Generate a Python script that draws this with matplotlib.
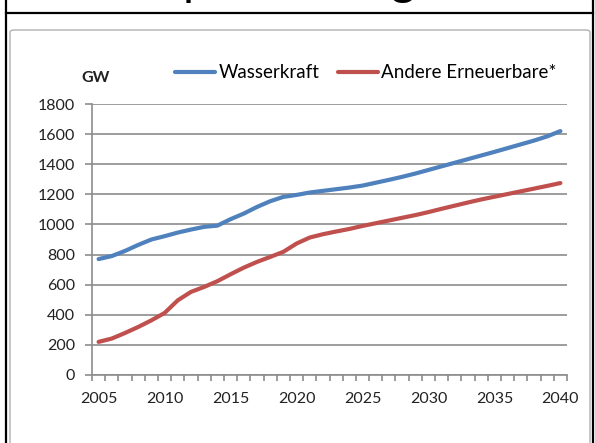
### Wasserkraft vs. andere Erneuerbare, Kapazitaet in GW

import matplotlib
matplotlib.use("Agg")
import matplotlib.pyplot as plt
from matplotlib.lines import Line2D
from matplotlib.patches import FancyBboxPatch

years = list(range(2005, 2041))
wasserkraft = [770, 790, 824, 864, 900, 922, 946, 966, 984, 992,
               1035, 1072, 1116, 1154, 1183, 1196, 1212, 1223, 1234, 1245,
               1258, 1277, 1296, 1316, 1338, 1362, 1386, 1410, 1434, 1458,
               1482, 1507, 1532, 1557, 1585, 1620]
andere = [220, 242, 279, 319, 363, 412, 496, 552, 585, 623,
          669, 713, 751, 784, 818, 873, 913, 935, 953, 970,
          990, 1008, 1026, 1044, 1062, 1082, 1104, 1125, 1146, 1166,
          1184, 1202, 1220, 1238, 1256, 1275]
labels = ["Wasserkraft", "Andere Erneuerbare*"]
y_ticks = [0, 200, 400, 600, 800, 1000, 1200, 1400, 1600, 1800]

W, H = 595, 443
BLUE = "#4F81BD"
RED = "#C0504D"
GRID = "#8C8C8C"

plt.rcParams['font.family'] = ['Lato', 'DejaVu Sans']


def px(x, y):
    # pixel coords (top-left origin) -> figure fraction
    return x / W, 1 - y / H


def main():
    fig = plt.figure(figsize=(W / 100, H / 100), dpi=100)
    ax = fig.add_axes([92 / W, 1 - 375 / H, (567 - 92) / W, (375 - 104) / H])

    xs = list(range(len(years)))
    ax.plot(xs, wasserkraft, color=BLUE, linewidth=3, solid_capstyle='round', label=labels[0])
    ax.plot(xs, andere, color=RED, linewidth=3, solid_capstyle='round', label=labels[1])

    ax.set_xlim(-0.5, len(years) - 0.5)
    ax.set_ylim(0, 1800)
    ax.set_yticks(y_ticks)
    ax.set_yticklabels([str(v) for v in y_ticks])
    major = [i for i, y in enumerate(years) if y % 5 == 0]
    ax.set_xticks(major)
    ax.set_xticklabels([str(years[i]) for i in major])
    ax.set_xticks([i - 0.5 for i in range(len(years) + 1)], minor=True)

    ax.tick_params(axis='x', which='major', length=0, pad=12, labelsize=11.5, colors='#222222')
    ax.tick_params(axis='x', which='minor', length=4, width=1.2, color=GRID, direction='out')
    ax.tick_params(axis='y', which='major', length=5, width=1.2, color=GRID, pad=7,
                   labelsize=11.5, labelcolor='#222222')

    ax.grid(True, axis='y', color=GRID, linewidth=1.2)
    ax.set_axisbelow(True)
    for s in ['top', 'right']:
        ax.spines[s].set_visible(False)
    for s in ['left', 'bottom']:
        ax.spines[s].set_color(GRID)
        ax.spines[s].set_linewidth(1.2)

    fig.text(*px(81, 78), 'GW', fontsize=11.5, fontweight='bold', va='center', ha='left', color='#222222')

    fig.legend(loc='center left', bbox_to_anchor=px(175, 73), ncol=2, frameon=False,
               borderpad=0, borderaxespad=0, handlelength=2.15, handletextpad=0.16,
               columnspacing=1.0, fontsize=13.5)

    # outer frame of the document page
    fig.add_artist(Line2D([px(6, 0)[0], px(6, 0)[0]], [0, 1], color='black', linewidth=1.6))
    fig.add_artist(Line2D([px(593, 0)[0], px(593, 0)[0]], [0, 1], color='black', linewidth=1.6))
    fig.add_artist(Line2D([px(6, 0)[0], px(593, 0)[0]], [px(0, 13)[1]] * 2, color='black', linewidth=1.6))
    box = FancyBboxPatch(px(10, 460), (580) / W, (460 - 30) / H,
                         boxstyle="round,pad=0,rounding_size=0.006",
                         transform=fig.transFigure, facecolor='none', edgecolor='#B0B0B0', linewidth=1)
    fig.add_artist(box)

    # bottom of the cut-off heading above the chart
    fig.text(*px(183, -5), 'p', fontsize=34, va='baseline', ha='left', color='black')
    fig.text(*px(391, -5), 'g', fontsize=34, va='baseline', ha='left', color='black')

    fig.savefig("out.png", dpi=100)


if __name__ == "__main__":
    main()
